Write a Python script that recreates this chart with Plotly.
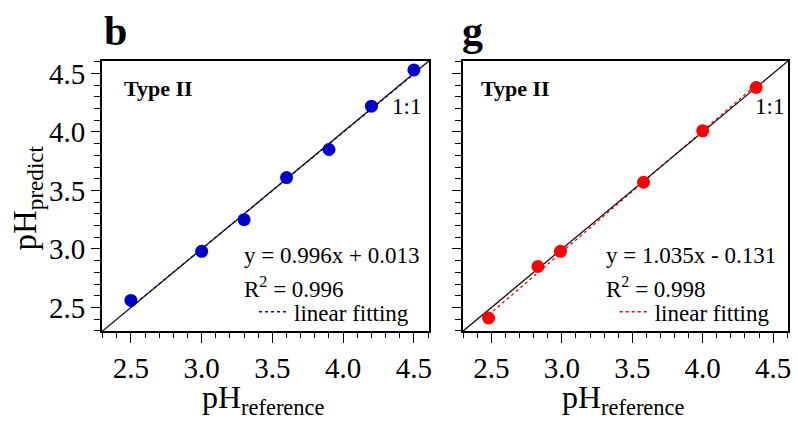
import plotly.graph_objects as go

# ---------------- data ----------------
ph_ref_b = [2.5, 3.0, 3.3, 3.6, 3.9, 4.2, 4.5]
ph_pred_b = [2.56, 2.98, 3.25, 3.61, 3.85, 4.22, 4.53]
ph_ref_g = [2.48, 2.83, 2.99, 3.58, 4.00, 4.38]
ph_pred_g = [2.41, 2.85, 2.98, 3.57, 4.01, 4.38]
fit_b = (0.996, 0.013, 0.996)   # slope, intercept, R2
fit_g = (1.035, -0.131, 0.998)
tick_vals = [2.5, 3.0, 3.5, 4.0, 4.5]
tick_text = ["2.5", "3.0", "3.5", "4.0", "4.5"]
panel_labels = ["b", "g"]
type_label = "Type II"

X_RANGE = [2.295, 4.606]
Y_RANGE = [2.296, 4.610]

W, H = 798, 421
FONT = "Liberation Serif, Times New Roman, serif"
BLUE = "#0000CC"
RED = "#FF0000"

def px(x):
    return x / W

def py(y):
    return 1 - y / H

fig = go.Figure()

panels = [
    dict(xr=ph_ref_b, yr=ph_pred_b, fit=fit_b, color=BLUE, xa="x", ya="y",
         legend="legend", dom=[102.3, 430.5], label=panel_labels[0], label_x=116),
    dict(xr=ph_ref_g, yr=ph_pred_g, fit=fit_g, color=RED, xa="x2", ya="y2",
         legend="legend2", dom=[464.3, 791.0], label=panel_labels[1], label_x=474.5),
]

lo = min(X_RANGE[0], Y_RANGE[0]) - 0.5
hi = max(X_RANGE[1], Y_RANGE[1]) + 0.5

for p in panels:
    slope, icpt, r2 = p["fit"]
    xs = [min(p["xr"]), max(p["xr"])]
    ys = [slope * v + icpt for v in xs]
    fig.add_trace(go.Scatter(x=xs, y=ys, mode="lines", name="linear fitting",
                             line=dict(color=p["color"], width=1.3, dash="dot"),
                             xaxis=p["xa"], yaxis=p["ya"], legend=p["legend"],
                             showlegend=True))
    # 1:1 line
    fig.add_trace(go.Scatter(x=[lo, hi], y=[lo, hi], mode="lines",
                             line=dict(color="#111111", width=1.3),
                             xaxis=p["xa"], yaxis=p["ya"], showlegend=False,
                             hoverinfo="skip"))
    fig.add_trace(go.Scatter(x=p["xr"], y=p["yr"], mode="markers",
                             marker=dict(color=p["color"], size=13, line=dict(width=0)),
                             xaxis=p["xa"], yaxis=p["ya"], showlegend=False))

axis_common = dict(
    showline=True, linecolor="black", linewidth=1.5, mirror=True,
    ticks="outside", tickcolor="black", tickwidth=1.2,
    tickvals=tick_vals, ticktext=tick_text,
    showgrid=False, zeroline=False,
    tickfont=dict(family=FONT, size=29, color="black"),
)

fig.update_layout(
    width=W, height=H,
    margin=dict(l=0, r=0, t=0, b=0),
    paper_bgcolor="white", plot_bgcolor="white",
    xaxis=dict(domain=[px(102.3), px(430.5)], range=X_RANGE, anchor="y",
               ticklen=10, minor=dict(dtick=0.1, ticks="outside", ticklen=5, tickcolor="black"),
               **axis_common),
    yaxis=dict(domain=[py(330.7), py(58)], range=Y_RANGE, anchor="x",
               ticklen=9, minor=dict(dtick=0.1, ticks="outside", ticklen=6, tickcolor="black"),
               **axis_common),
    xaxis2=dict(domain=[px(464.3), px(791.0)], range=X_RANGE, anchor="y2",
                ticklen=10, minor=dict(dtick=0.1, ticks="outside", ticklen=5, tickcolor="black"),
                **axis_common),
    yaxis2=dict(domain=[py(330.7), py(58)], range=Y_RANGE, anchor="x2",
                ticklen=9, minor=dict(dtick=0.1, ticks="outside", ticklen=6, tickcolor="black"),
                showticklabels=False,
                **{k: v for k, v in axis_common.items() if k != "tickfont"}),
    legend=dict(x=px(255), y=py(311), xanchor="left", yanchor="middle",
                bgcolor="rgba(0,0,0,0)", font=dict(family=FONT, size=23, color="black")),
    legend2=dict(x=px(617), y=py(311), xanchor="left", yanchor="middle",
                 bgcolor="rgba(0,0,0,0)", font=dict(family=FONT, size=23, color="black")),
    showlegend=True,
)

ann = []
for p, eq_x, type_x, one_x in [
    (panels[0], 243, 122, 408.5),
    (panels[1], 606.7, 481, 772.5),
]:
    slope, icpt, r2 = p["fit"]
    sign = "+" if icpt >= 0 else "-"
    ann.append(dict(x=px(eq_x), y=py(254), xref="paper", yref="paper",
                    text=f"y = {slope:.3f}x {sign} {abs(icpt):.3f}",
                    xanchor="left", yanchor="middle", showarrow=False,
                    font=dict(family=FONT, size=23, color="black")))
    ann.append(dict(x=px(eq_x), y=py(287), xref="paper", yref="paper",
                    text=f"R<sup>2</sup> = {r2:.3f}",
                    xanchor="left", yanchor="middle", showarrow=False,
                    font=dict(family=FONT, size=23, color="black")))
    ann.append(dict(x=px(type_x), y=py(86), xref="paper", yref="paper",
                    text=f"<b>{type_label}</b>",
                    xanchor="left", yanchor="middle", showarrow=False,
                    font=dict(family=FONT, size=22, color="black")))
    ann.append(dict(x=px(one_x), y=py(104), xref="paper", yref="paper",
                    text="1:1", xanchor="center", yanchor="middle", showarrow=False,
                    font=dict(family=FONT, size=23, color="black")))
    cx = (p["dom"][0] + p["dom"][1]) / 2
    ann.append(dict(x=px(cx - 2), y=py(399), xref="paper", yref="paper",
                    text="pH<sub>reference</sub>", xanchor="center", yanchor="middle",
                    showarrow=False, font=dict(family=FONT, size=32, color="black")))
    ann.append(dict(x=px(p["label_x"]), y=py(28), xref="paper", yref="paper",
                    text=f"<b>{p['label']}</b>", xanchor="center", yanchor="middle",
                    showarrow=False, font=dict(family=FONT, size=42, color="black")))

ann.append(dict(x=px(28), y=py(196), xref="paper", yref="paper",
                text="pH<sub>predict</sub>", textangle=-90,
                xanchor="center", yanchor="middle", showarrow=False,
                font=dict(family=FONT, size=33, color="black")))

fig.update_layout(annotations=ann)
fig.write_html("out.html",
               config={"displayModeBar": False},
               post_script="document.body.style.margin='0';document.body.style.overflow='hidden';")
